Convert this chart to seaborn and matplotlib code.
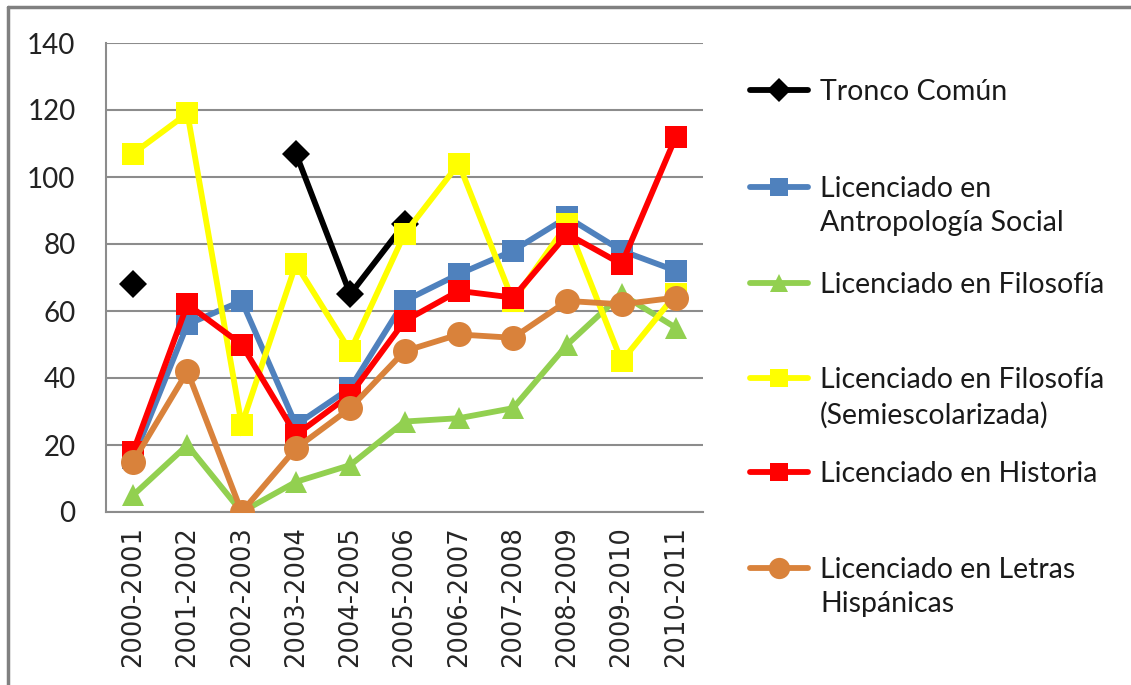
import numpy as np
import pandas as pd
import matplotlib
matplotlib.use("Agg")
import matplotlib.pyplot as plt
from matplotlib.lines import Line2D
import seaborn as sns

# Data
periods = ["2000-2001", "2001-2002", "2002-2003", "2003-2004", "2004-2005",
           "2005-2006", "2006-2007", "2007-2008", "2008-2009", "2009-2010",
           "2010-2011"]
tronco_comun = [68, np.nan, np.nan, 107, 65, 86, np.nan, np.nan, np.nan, np.nan, np.nan]
antropologia = [16, 56, 63, 26, 37, 63, 71, 78, 88, 78, 72]
filosofia = [5, 20, 0, 9, 14, 27, 28, 31, 50, 65, 55]
filosofia_semi = [107, 119, 26, 74, 48, 83, 104, 63, 86, 45, 65]
historia = [18, 62, 50, 23, 35, 57, 66, 64, 83, 74, 112]
letras = [15, 42, 0, 19, 31, 48, 53, 52, 63, 62, 64]

series_names = ["Tronco Común",
                "Licenciado en\nAntropología Social",
                "Licenciado en Filosofía",
                "Licenciado en Filosofía\n(Semiescolarizada)",
                "Licenciado en Historia",
                "Licenciado en Letras\nHispánicas"]
series_values = [tronco_comun, antropologia, filosofia, filosofia_semi, historia, letras]

# styles
colors = ["#000000", "#4F81BD", "#92D050", "#FFFF00", "#FF0000", "#D9823B"]
markers = ["D", "s", "^", "s", "s", "o"]
msizes = [14, 16, 16, 16, 16, 18]

sns.set_style("white")
plt.rcParams["font.family"] = ["Lato", "DejaVu Sans"]

W, H = 1131, 685
fig = plt.figure(figsize=(W / 100, H / 100), dpi=100)
ax = fig.add_axes([106 / W, 1 - 512 / H, (703 - 106) / W, (512 - 43) / H])

grid_col = "#8C8C8C"

for name, vals, col, mk, ms in zip(series_names, series_values, colors, markers, msizes):
    df = pd.DataFrame({"x": np.arange(len(periods)), "v": vals})
    # split into segments so gaps stay open
    df["seg"] = df["v"].isna().cumsum()
    df = df.dropna()
    sns.lineplot(data=df, x="x", y="v", units="seg", estimator=None, ax=ax,
                 color=col, linewidth=4.2, marker=mk, markersize=ms,
                 markeredgecolor=col, markeredgewidth=0, legend=False,
                 solid_joinstyle="miter", zorder=3)

ax.set_xlim(-0.5, len(periods) - 0.5)
ax.set_ylim(0, 140)
ax.set_yticks(np.arange(0, 141, 20))
ax.set_xticks(np.arange(len(periods)))
ax.set_xticklabels(periods, rotation=90, fontfamily="DejaVu Sans", fontsize=18.5)
ax.set_xticks(np.arange(-0.5, len(periods)), minor=True)
ax.tick_params(axis="x", which="major", length=0, pad=10)
ax.tick_params(axis="x", which="minor", length=8, width=1.3, color=grid_col, direction="out")
ax.tick_params(axis="y", which="major", length=8, width=1.3, color=grid_col,
               direction="out", labelsize=20, pad=14)
ax.set_xlabel("")
ax.set_ylabel("")
ax.yaxis.grid(True, color=grid_col, linewidth=1.5)
ax.set_axisbelow(True)
for s in ["top", "right"]:
    ax.spines[s].set_visible(False)
for s in ["left", "bottom"]:
    ax.spines[s].set_color(grid_col)
    ax.spines[s].set_linewidth(1.5)
for lbl in ax.get_yticklabels():
    lbl.set_color("#222222")

# legend drawn at the right, handle aligned with first text line
leg_fs = 20.5
leg_y = [90, 187, 283, 378, 472, 568]
for name, col, mk, ms, yy in zip(series_names, colors, markers, msizes, leg_y):
    yf = 1 - yy / H
    fig.add_artist(Line2D([750 / W, 808 / W], [yf, yf], color=col, linewidth=4.2,
                          solid_capstyle="round"))
    fig.add_artist(Line2D([779 / W], [yf], color=col, marker=mk, markersize=ms * 0.85,
                          markeredgewidth=0))
    fig.text(820 / W, yf + 0.4 * leg_fs * 1.389 / H, name, fontsize=leg_fs,
             va="top", ha="left", color="#1a1a1a", linespacing=1.4)

# outer frame (top and left edges only visible)
fig.add_artist(Line2D([8 / W, 1.0], [1 - 7 / H, 1 - 7 / H], color="#808080", linewidth=2.5))
fig.add_artist(Line2D([8 / W, 8 / W], [0, 1 - 7 / H], color="#808080", linewidth=2.5))

fig.savefig("out.png", dpi=100)
